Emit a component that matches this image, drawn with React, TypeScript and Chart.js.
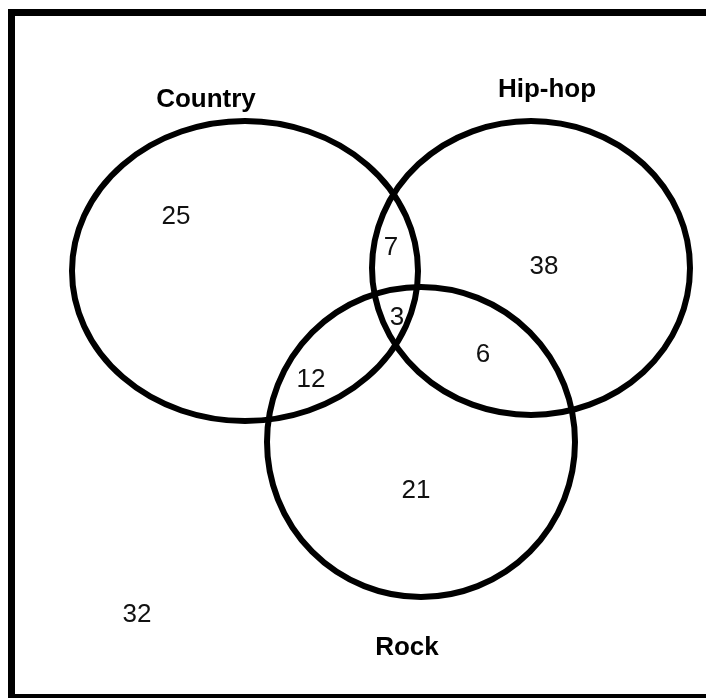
import React, { useEffect, useRef } from "react";
import { Chart, registerables } from "chart.js";

Chart.register(...registerables);

// Sets (ellipses): centre and radii in page-pixel data units
const setNames = ["Country", "Hip-hop", "Rock"];
const setCenterX = [245, 531, 421];
const setCenterY = [271, 268, 442];
const setRadiusX = [173, 159, 154];
const setRadiusY = [150, 147, 155];
const setLabelX = [206, 547, 407];
const setLabelY = [100, 90, 648];

// Region counts and their label positions
const regionValues = ["25", "7", "38", "3", "6", "12", "21", "32"];
const regionX = [176, 391, 544, 397, 483, 311, 416, 137];
const regionY = [217, 248, 267, 318, 355, 380, 491, 615];

// Frame
const frameX = [11.5, 740];
const frameY = [12.5, 697.5];

const vennPlugin = {
  id: "venn",
  afterDatasetsDraw(chart: any) {
    const ctx = chart.ctx;
    const xs = chart.scales.x;
    const ys = chart.scales.y;
    ctx.save();
    // frame
    const fx0 = xs.getPixelForValue(frameX[0]);
    const fx1 = xs.getPixelForValue(frameX[1]);
    const fy0 = ys.getPixelForValue(frameY[0]);
    const fy1 = ys.getPixelForValue(frameY[1]);
    ctx.strokeStyle = "#000";
    ctx.lineWidth = 7;
    ctx.strokeRect(fx0, fy0, fx1 - fx0, fy1 - fy0);
    // ellipses
    ctx.lineWidth = 6;
    for (let i = 0; i < setNames.length; i++) {
      const cx = xs.getPixelForValue(setCenterX[i]);
      const cy = ys.getPixelForValue(setCenterY[i]);
      const rx = Math.abs(xs.getPixelForValue(setCenterX[i] + setRadiusX[i]) - cx);
      const ry = Math.abs(ys.getPixelForValue(setCenterY[i] + setRadiusY[i]) - cy);
      ctx.beginPath();
      ctx.ellipse(cx, cy, rx, ry, 0, 0, Math.PI * 2);
      ctx.stroke();
    }
    ctx.textAlign = "center";
    ctx.textBaseline = "middle";
    ctx.fillStyle = "#000";
    ctx.font = "bold 26px 'Liberation Sans', Arial, sans-serif";
    for (let i = 0; i < setNames.length; i++) {
      ctx.fillText(setNames[i], xs.getPixelForValue(setLabelX[i]), ys.getPixelForValue(setLabelY[i]));
    }
    ctx.fillStyle = "#111";
    ctx.font = "26px 'Liberation Sans', Arial, sans-serif";
    for (let i = 0; i < regionValues.length; i++) {
      ctx.fillText(regionValues[i], xs.getPixelForValue(regionX[i]), ys.getPixelForValue(regionY[i]));
    }
    ctx.restore();
  },
};

export default function App() {
  const ref = useRef<HTMLCanvasElement | null>(null);
  useEffect(() => {
    if (!ref.current) return;
    const chart = new Chart(ref.current, {
      type: "scatter",
      data: {
        datasets: [
          {
            label: "Sets",
            data: setCenterX.map((x, i) => ({ x, y: setCenterY[i] })),
            pointRadius: 0,
          },
        ],
      },
      options: {
        animation: false,
        responsive: false,
        maintainAspectRatio: false,
        layout: { padding: 0 },
        plugins: { legend: { display: false }, tooltip: { enabled: false } },
        scales: {
          x: { type: "linear", min: 0, max: 706, display: false },
          y: { type: "linear", min: 0, max: 698, reverse: true, display: false },
        },
      },
      plugins: [vennPlugin],
    });
    return () => chart.destroy();
  }, []);
  return (
    <div style={{ position: "fixed", left: 0, top: 0, width: 706, height: 698, background: "#fff" }}>
      <canvas ref={ref} width={706} height={698} style={{ width: 706, height: 698, display: "block" }} />
    </div>
  );
}
